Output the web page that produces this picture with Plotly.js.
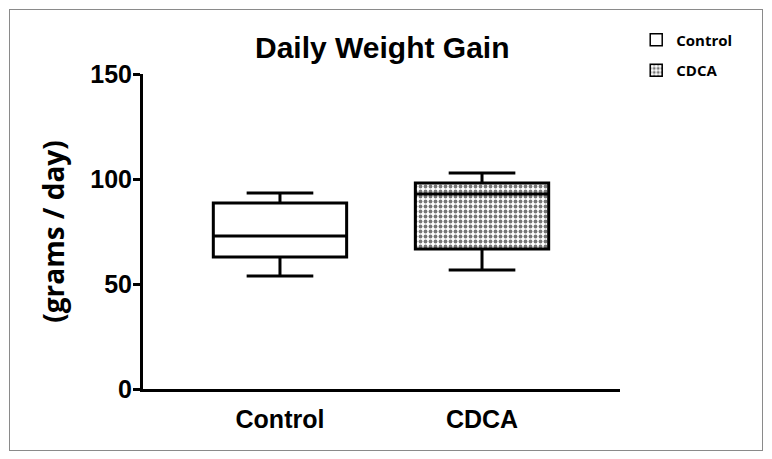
<!DOCTYPE html>
<html>
<head>
<meta charset="utf-8">
<script src="https://cdn.plot.ly/plotly-3.0.1.min.js"></script>
<style>
  body { margin: 0; background: #fff; }
  #myPlot { position: absolute; left: 9px; top: 9px; width: 752px; height: 440px; border: 1px solid #8a8a8a; }
</style>
</head>
<body>
<div id="myPlot"></div>
<script>
// groups on the x axis
var groups = ["Control", "CDCA"];

// box summary values (grams / day)
var lowWhisker = [53.8, 56.7];
var q1Values = [62.9, 66.7];
var medianValues = [72.9, 92.9];
var q3Values = [88.6, 98.1];
var highWhisker = [93.3, 102.9];

var yTicks = [0, 50, 100, 150];

var data = [];

// filled squares behind the boxes (give the pattern + legend swatch)
for (var i = 0; i < groups.length; i++) {
  var isCdca = groups[i] == "CDCA";
  data.push({
    type: "bar",
    x: [groups[i]],
    y: [q3Values[i] - q1Values[i]],
    base: [q1Values[i]],
    width: 0.66,
    name: "<b>" + groups[i] + "</b>",
    legendgroup: groups[i],
    marker: {
      color: "#ffffff",
      line: {color: "#000", width: 1.5},
      pattern: isCdca ? {shape: ".", fgcolor: "#777", bgcolor: "#ffffff", size: 5, solidity: 0.45} : {shape: ""}
    },
    hoverinfo: "skip"
  });
}

// the box plots themselves
for (var j = 0; j < groups.length; j++) {
  data.push({
    type: "box",
    x: [groups[j]],
    lowerfence: [lowWhisker[j]],
    q1: [q1Values[j]],
    median: [medianValues[j]],
    q3: [q3Values[j]],
    upperfence: [highWhisker[j]],
    width: 0.66,
    whiskerwidth: 0.5,
    fillcolor: "rgba(0,0,0,0)",
    line: {color: "#000", width: 3},
    showlegend: false
  });
}

var layout = {
  width: 752,
  height: 440,
  margin: {l: 133, r: 142, t: 64, b: 61},
  paper_bgcolor: "#fff",
  plot_bgcolor: "#fff",
  font: {family: "Liberation Sans, Arial, sans-serif", color: "#000"},
  title: {text: "<b>Daily Weight Gain</b>", x: 0.495, xanchor: "center", y: 0.914, yanchor: "middle", font: {size: 30}},
  barmode: "overlay",
  boxmode: "overlay",
  showlegend: true,
  legend: {x: 1.034, y: 1.16, xanchor: "left", yanchor: "top",
           font: {size: 15, family: "Open Sans, sans-serif"}, tracegroupgap: 8},
  xaxis: {
    type: "category",
    range: [-0.678, 1.683],
    showline: true, linecolor: "#000", linewidth: 3,
    ticks: "", showgrid: false, zeroline: false,
    tickfont: {size: 25, weight: "bold"},
    ticklabelstandoff: 6
  },
  yaxis: {
    range: [0, 150],
    tickvals: yTicks,
    ticktext: yTicks.map(function (v) { return "<b>" + v + "</b>"; }),
    showline: true, linecolor: "#000", linewidth: 3,
    ticks: "outside", ticklen: 7, tickwidth: 3, tickcolor: "#000",
    showgrid: false, zeroline: false,
    tickfont: {size: 25},
    ticklabelstandoff: -4,
    title: {text: "<b>(grams / day)</b>", font: {size: 28, family: "Open Sans, sans-serif"}, standoff: 18}
  }
};

Plotly.newPlot("myPlot", data, layout, {displayModeBar: false});
</script>
</body>
</html>
